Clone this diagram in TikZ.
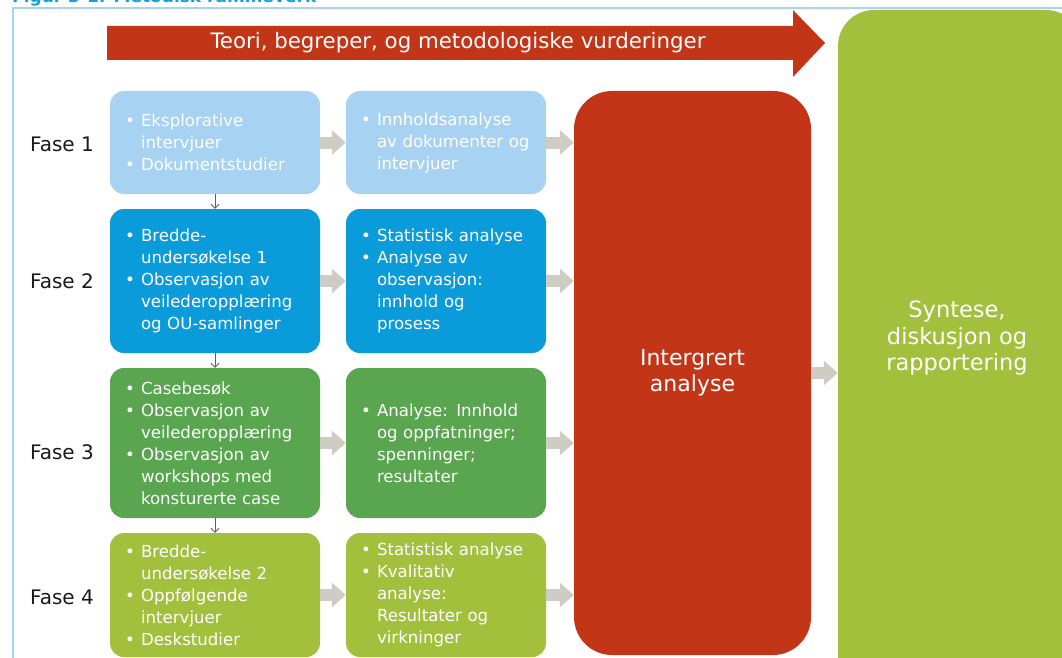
\documentclass[tikz,border=0pt]{standalone}
\usepackage{fontspec}
\setmainfont{DejaVu Sans}
\usetikzlibrary{arrows.meta,positioning}

% bullet line and continuation line inside the phase boxes
\newcommand{\itm}{\hspace*{15pt}\makebox[16pt][l]{•}}
\newcommand{\ind}{\hspace*{31pt}}

\begin{document}
\begin{tikzpicture}[x=1pt,y=-1pt,
  box/.style={rounded corners=14pt, inner xsep=0pt, inner ysep=0pt, text=white, align=left, font=\fontsize{16.6}{22}\selectfont},
  colA/.style={box, text width=210pt, minimum height=#1},
  colB/.style={box, text width=200pt, minimum height=#1},
  fase/.style={font=\fontsize{20}{24}\selectfont, text=fasetext},
  fatarrow/.style={draw=arrowgrey, line width=12pt, -{Triangle[length=14pt,width=24pt]}},
  down/.style={draw=downgrey, line width=0.8pt, -{Straight Barb[length=4pt,width=8pt]}}
]
\definecolor{lblue}{HTML}{A7D2F2}
\definecolor{dblue}{HTML}{0A9BDA}
\definecolor{dgreen}{HTML}{5AA550}
\definecolor{lgreen}{HTML}{A2C03C}
\definecolor{redc}{HTML}{C33517}
\definecolor{arrowgrey}{HTML}{CFCCC3}
\definecolor{downgrey}{HTML}{5E5E5E}
\definecolor{framec}{HTML}{A8D3F5}
\definecolor{titleblue}{HTML}{14A0DE}
\definecolor{fasetext}{HTML}{1A1A1A}

\useasboundingbox (0,0) rectangle (1062,658);
\fill[white] (0,0) rectangle (1062,658);

% frame and title (cut at the top)
\draw[framec, line width=2pt] (13,720) -- (13,8) -- (1080,8);
\node[anchor=base west, inner sep=0pt, text=titleblue, font=\bfseries\fontsize{17}{20}\selectfont] (title) at (12,2.5) {Figur 3-1: Metodisk rammeverk};

% theory arrow
\fill[redc] (107,26) -- (793,26) -- (793,10) -- (825,43) -- (793,77) -- (793,60) -- (107,60) -- cycle;
\node[text=white, font=\fontsize{21.3}{25}\selectfont] (theory) at (458,43) {Teori, begreper, og metodologiske vurderinger};

% synthesis and integrated analysis
\node[fill=lgreen, rounded corners=36pt, minimum width=244pt, minimum height=690pt, inner sep=0pt] (synth) at (960,355) {};
\node[text=white, align=center, font=\fontsize{22.5}{26.5}\selectfont] (synthtxt) at (957,338) {Syntese,\\diskusjon og\\rapportering};
\node[fill=redc, rounded corners=38pt, minimum width=237pt, minimum height=564pt, inner sep=0pt, text=white, align=center, font=\fontsize{22}{26}\selectfont] (integ) at (692.5,373) {Intergrert\\analyse};

% phases
\node[fase] (fase1) at (62,144) {Fase 1};
\node[fase] (fase2) at (62,281) {Fase 2};
\node[fase] (fase3) at (62,452) {Fase 3};
\node[fase] (fase4) at (62,597) {Fase 4};

\node[colA=103pt, fill=lblue] (b11) at (215,142.5) {\itm Eksplorative\\\ind intervjuer\\\itm Dokumentstudier};
\node[colB=103pt, fill=lblue] (b12) at (446,142.5) {\itm Innholdsanalyse\\\ind av dokumenter og\\\ind intervjuer};

\node[colA=144pt, fill=dblue] (b21) at (215,281) {\itm Bredde-\\\ind undersøkelse 1\\\itm Observasjon av\\\ind veilederopplæring\\\ind og OU-samlinger};
\node[colB=144pt, fill=dblue] (b22) at (446,281) {\itm Statistisk analyse\\\itm Analyse av\\\ind observasjon:\\\ind innhold og\\\ind prosess};

\node[colA=150pt, fill=dgreen] (b31) at (215,443) {\itm Casebesøk\\\itm Observasjon av\\\ind veilederopplæring\\\itm Observasjon av\\\ind workshops med\\\ind konsturerte case};
\node[colB=150pt, fill=dgreen] (b32) at (446,443) {\itm Analyse: Innhold\\\ind og oppfatninger;\\\ind spenninger;\\\ind resultater};

\node[colA=124pt, fill=lgreen] (b41) at (215,595) {\itm Bredde-\\\ind undersøkelse 2\\\itm Oppfølgende\\\ind intervjuer\\\itm Deskstudier};
\node[colB=124pt, fill=lgreen] (b42) at (446,595) {\itm Statistisk analyse\\\itm Kvalitativ\\\ind analyse:\\\ind Resultater og\\\ind virkninger};

% connectors
\foreach \r in {1,2,3,4} {
  \draw[fatarrow] (b\r1) -- (b\r2);
  \draw[fatarrow] (b\r2) -- (b\r2 -| integ.west);
}
\draw[fatarrow] (integ.east) -- (integ.east -| synth.west);
\draw[down] (b11) -- (b21);
\draw[down] (b21) -- (b31);
\draw[down] (b31) -- (b41);
\end{tikzpicture}
\end{document}
